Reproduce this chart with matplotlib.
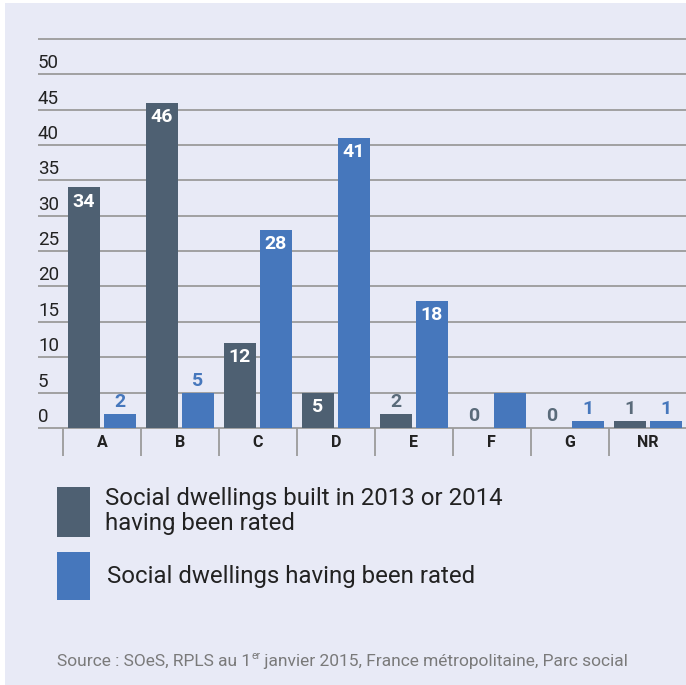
import numpy as np
import matplotlib
matplotlib.use("Agg")
import matplotlib.pyplot as plt
from matplotlib.patches import Rectangle

plt.rcParams['font.family'] = ['Roboto', 'DejaVu Sans']

# energy rating classes
classes = ['A', 'B', 'C', 'D', 'E', 'F', 'G', 'NR']
built_1314 = [34, 46, 12, 5, 2, 0, 0, 1]
all_rated = [2, 5, 28, 41, 18, 5, 1, 1]
show_label_all = [True, True, True, True, True, False, True, True]

legend_labels = ['Social dwellings built in 2013 or 2014\nhaving been rated',
                 'Social dwellings having been rated']
yticks = list(range(0, 55, 5))
source_parts = ['Source : SOeS, RPLS au 1', 'er',
                ' janvier 2015, France métropolitaine, Parc social']

c_dark = '#4E6072'
c_blue = '#4677BC'
c_bg = '#E8EAF6'
c_grid = '#9B9B9B'

W, H = 686, 685
fig = plt.figure(figsize=(W/100, H/100), dpi=100)
fig.patch.set_facecolor('white')
fig.patches.append(Rectangle((5/W, 0), 1, 1 - 3/H, transform=fig.transFigure,
                             facecolor=c_bg, edgecolor='none', zorder=-10))

# axes placed in pixels: left 38, right 686, top 37, bottom 456
ax = fig.add_axes([38/W, 1 - 456/H, (686 - 38)/W, (456 - 37)/H])
ax.set_facecolor('none')
for s in ax.spines.values():
    s.set_visible(False)
ax.set_xticks([])
ax.set_yticks([])
ax.set_xlim(-0.82, 7.49)
ax.set_ylim(-3.97, 55.28)

for y in range(0, 60, 5):
    ax.axhline(y, color=c_grid, lw=1.3, zorder=1)
for y in yticks:
    ax.text(0, y + 0.85, str(y), transform=ax.get_yaxis_transform(),
            ha='left', va='baseline', fontsize=13.5, color='#222222')

x = np.arange(len(classes))
ax.vlines(np.arange(len(classes) + 1) - 0.5, -3.97, 0, color=c_grid, lw=1.3, zorder=1)
for xi, c in zip(x, classes):
    ax.text(xi, -2.0, c, ha='center', va='center', fontsize=11.5,
            fontweight='bold', color='#222222')

bw = 0.41
off = 0.23
ax.bar(x - off, built_1314, bw, color=c_dark, zorder=2)
ax.bar(x + off, all_rated, bw, color=c_blue, zorder=2)


def value_labels(xs, vals, color, inside_from, show):
    for xi, v, sh in zip(xs, vals, show):
        if not sh:
            continue
        if v >= inside_from:
            ax.text(xi, v - 2.0, str(v), ha='center', va='center', fontsize=14,
                    fontweight='bold', color='white', zorder=3)
        else:
            ax.text(xi, v + 1.65, str(v), ha='center', va='center', fontsize=14,
                    fontweight='bold', color=color, zorder=3)


value_labels(x - off, built_1314, '#5A6B7A', 5, [True] * len(classes))
value_labels(x + off, all_rated, c_blue, 10, show_label_all)

# legend drawn by hand
fig.patches.append(Rectangle((57/W, 1 - 537/H), 33/W, 50/H, transform=fig.transFigure,
                             facecolor=c_dark, edgecolor='none'))
fig.patches.append(Rectangle((57/W, 1 - 600/H), 33/W, 48/H, transform=fig.transFigure,
                             facecolor=c_blue, edgecolor='none'))
fig.text(105/W, 1 - 511/H, legend_labels[0], ha='left', va='center', fontsize=17.3,
         color='#222222', linespacing=1.15)
fig.text(107/W, 1 - 576/H, legend_labels[1], ha='left', va='center', fontsize=17.3,
         color='#222222')

# source line with superscript "er"
renderer = fig.canvas.get_renderer()
t = fig.text(57/W, 1 - 666/H, source_parts[0], ha='left', va='baseline',
             fontsize=12.5, color='#7A7A7A')
x1 = t.get_window_extent(renderer).x1
t = fig.text(x1/W, 1 - 659/H, source_parts[1], ha='left', va='baseline',
             fontsize=7.5, color='#7A7A7A')
x1 = t.get_window_extent(renderer).x1
fig.text(x1/W, 1 - 666/H, source_parts[2], ha='left', va='baseline',
         fontsize=12.5, color='#7A7A7A')

fig.savefig('out.png', dpi=100, facecolor=fig.get_facecolor())
